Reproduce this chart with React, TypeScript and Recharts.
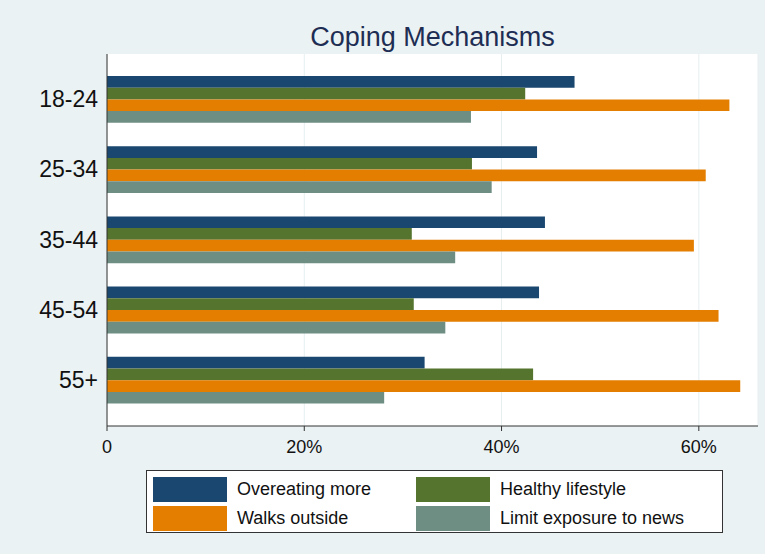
import React from 'react';
import { BarChart, Bar, XAxis, YAxis, CartesianGrid } from 'recharts';

const ageGroups = ['18-24', '25-34', '35-44', '45-54', '55+'];
const overeatingMore = [47.4, 43.6, 44.4, 43.8, 32.2];
const healthyLifestyle = [42.4, 37.0, 30.9, 31.1, 43.2];
const walksOutside = [63.1, 60.7, 59.5, 62.0, 64.2];
const limitNews = [36.9, 39.0, 35.3, 34.3, 28.1];
const xTicks = [0, 20, 40, 60];

const series = [
  { key: 'overeating', name: 'Overeating more', color: '#1A476F' },
  { key: 'healthy', name: 'Healthy lifestyle', color: '#55752F' },
  { key: 'walks', name: 'Walks outside', color: '#E37E00' },
  { key: 'limit', name: 'Limit exposure to news', color: '#6E8E84' },
];

const data = ageGroups.map((g, i) => ({
  group: g,
  overeating: overeatingMore[i],
  healthy: healthyLifestyle[i],
  walks: walksOutside[i],
  limit: limitNews[i],
}));

const FONT = '"Liberation Sans", Arial, sans-serif';

// legend drawn outside the chart so it doesn't shrink the plot area
const LegendBox = () => (
  <div
    style={{
      position: 'absolute',
      top: 470,
      left: 146,
      width: 577,
      height: 63,
      border: '1px solid #333',
      background: '#fff',
      display: 'grid',
      gridTemplateColumns: '263px 300px',
      rowGap: 3,
      padding: '6px 0 0 6px',
      fontFamily: FONT,
      fontSize: 18,
      color: '#111',
      boxSizing: 'border-box',
    }}
  >
    {series.map((s) => (
      <div key={s.key} style={{ display: 'flex', alignItems: 'center', height: 25 }}>
        <span style={{ width: 74, height: 25, background: s.color, display: 'inline-block', marginRight: 10 }} />
        <span>{s.name}</span>
      </div>
    ))}
  </div>
);

const App: React.FC = () => {
  return (
    <div style={{ position: 'absolute', left: 0, top: 0, width: 765, height: 554, background: '#EAF2F3' }}>
      <div
        style={{
          position: 'absolute',
          top: 22,
          left: 107,
          width: 651,
          textAlign: 'center',
          fontFamily: FONT,
          fontSize: 27,
          color: '#1E2D53',
        }}
      >
        Coping Mechanisms
      </div>
      <BarChart
        width={765}
        height={554}
        data={data}
        layout="vertical"
        barSize={11.7}
        barGap={0}
        margin={{ top: 54, right: 7, bottom: 98, left: 6 }}
      >
        <CartesianGrid horizontal={false} vertical={true} stroke="#E6EEF0" fill="#fff" />
        <XAxis
          type="number"
          domain={[0, 66]}
          ticks={xTicks}
          tickFormatter={(v: number) => (v === 0 ? '0' : `${v}%`)}
          axisLine={{ stroke: '#333' }}
          tickLine={{ stroke: '#333' }}
          tickSize={5}
          tickMargin={9}
          tick={{ fill: '#111', fontSize: 18, fontFamily: FONT }}
          height={30}
          allowDataOverflow
        />
        <YAxis
          type="category"
          dataKey="group"
          width={101}
          padding={{ top: 10, bottom: 11 }}
          axisLine={{ stroke: '#333' }}
          tickLine={false}
          tickMargin={3}
          tick={{ fill: '#111', fontSize: 23, fontFamily: FONT }}
        />
        {series.map((s) => (
          <Bar key={s.key} dataKey={s.key} name={s.name} fill={s.color} isAnimationActive={false} />
        ))}
      </BarChart>
      <LegendBox />
    </div>
  );
};

export default App;
